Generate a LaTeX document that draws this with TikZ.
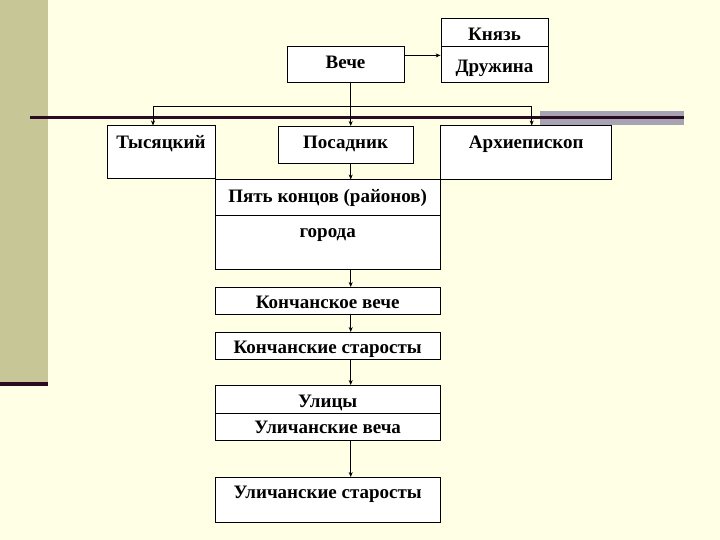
\documentclass[tikz,border=0pt]{standalone}
\usepackage{fontspec}
\setmainfont{Liberation Serif}
\usepackage{tikz}
\usetikzlibrary{arrows.meta, positioning}
\definecolor{slidebg}{HTML}{FFFFE6}
\definecolor{strip}{HTML}{C6C696}
\definecolor{darkbar}{HTML}{2B0A22}
\definecolor{graybar}{HTML}{A8A3B3}

\begin{document}
\begin{tikzpicture}[x=1pt, y=-1pt, >={Stealth[length=5pt, width=4pt]},
    box/.style={draw, fill=white, line width=0.8pt, anchor=north, inner sep=0pt,
        font=\fontsize{19}{22}\selectfont\bfseries},
    link/.style={->, line width=0.7pt}]
        % Slide background
        \fill[slidebg] (0,0) rectangle (720,540);
        \useasboundingbox (0,0) rectangle (720,540);
        \fill[strip] (0,0) rectangle (47.5,381.5);
        \fill[darkbar] (0,381.5) rectangle (47.5,385.5);
        \fill[graybar] (540,111) rectangle (684,125.5);
        \draw[darkbar, line width=3pt] (30,117.7) -- (684,117.7);

        % Nodes
        \node[box, minimum width=107, text height=21.5, text depth=5.7] (knyaz) at (494.5, 18.5) {Князь};
        \node[box, minimum width=107, text height=26, text depth=10] (druzhina) at (494.5, 45.7) {Дружина};
        \node[box, minimum width=117, text height=22, text depth=14] (veche) at (345.5, 46) {Вече};
        \node[box, minimum width=108, text height=22.5, text depth=30] (tys) at (161, 125.5) {Тысяцкий};
        \node[box, minimum width=135, text height=22, text depth=15] (posadnik) at (345.5, 126) {Посадник};
        \node[box, minimum width=171, text height=22.5, text depth=31] (arch) at (526.3, 125.5) {Архиепископ};
        \node[box, minimum width=224.5, text height=22.5, text depth=13] (pyat) at (327.7, 179.5) {Пять концов (районов)};
        \node[box, minimum width=224.5, text height=22, text depth=32] (gorod) at (327.7, 215) {города};
        \node[box, minimum width=224.5, text height=21, text depth=6] (kveche) at (327.7, 287) {Кончанское вече};
        \node[box, minimum width=224.5, text height=21, text depth=6] (kstar) at (327.7, 332) {Кончанские старосты};
        \node[box, minimum width=224.5, text height=22, text depth=6] (ulitsy) at (327.7, 385) {Улицы};
        \node[box, minimum width=224.5, text height=20, text depth=7] (uveche) at (327.7, 413) {Уличанские веча};
        \node[box, minimum width=224.5, text height=21, text depth=24] (ustar) at (327.7, 477) {Уличанские старосты};

        \coordinate (axis) at (350.7, 0);
        \coordinate (bar) at (0, 106.5);
        \coordinate (tysin) at (153, 0);
        \coordinate (archin) at (531.7, 0);

        % Directed edges
        \draw[link] ([yshift=9pt]veche.east) -- ([yshift=9pt]veche.east -| druzhina.west);
        \draw[link] (axis |- veche.south) -- (axis |- posadnik.north);
        \draw[link] (tysin |- bar) -- (tysin |- tys.north);
        \draw[link] (archin |- bar) -- (archin |- arch.north);
        \draw[line width=0.7pt] (tysin |- bar) -- (archin |- bar);
        \draw[link] (axis |- posadnik.south) -- (axis |- pyat.north);
        \draw[link] (axis |- gorod.south) -- (axis |- kveche.north);
        \draw[link] (axis |- kveche.south) -- (axis |- kstar.north);
        \draw[link] (axis |- kstar.south) -- (axis |- ulitsy.north);
        \draw[link] (axis |- uveche.south) -- (axis |- ustar.north);
    \end{tikzpicture}
\end{document}
